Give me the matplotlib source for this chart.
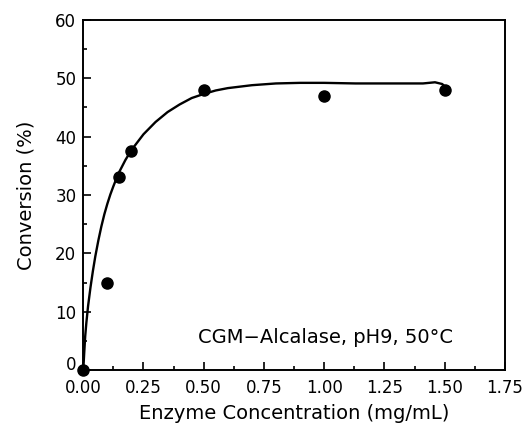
import matplotlib
matplotlib.use("Agg")
import matplotlib.pyplot as plt
from matplotlib.ticker import MultipleLocator, FormatStrFormatter

# measured points
conc = [0.0, 0.10, 0.15, 0.20, 0.50, 1.00, 1.50]
conv = [0.0, 15.0, 33.0, 37.5, 48.0, 47.0, 48.0]

# fitted curve
curve_x = [0.0, 0.004, 0.008, 0.013, 0.02, 0.03, 0.04, 0.05, 0.0625, 0.075, 0.0875, 0.10,
           0.1125, 0.125, 0.1375, 0.15, 0.175, 0.20, 0.25, 0.30, 0.35, 0.40, 0.45, 0.50, 0.55, 0.60,
           0.70, 0.80, 0.90, 1.00, 1.13, 1.25, 1.41, 1.46, 1.49, 1.50]
curve_y = [0.0, 3.0, 5.8, 8.2, 11.0, 14.2, 17.0, 19.5, 22.2, 24.6, 26.7, 28.5,
           30.1, 31.5, 32.8, 34.0, 36.0, 37.7, 40.4, 42.5, 44.2, 45.5, 46.6, 47.3, 47.9, 48.3,
           48.8, 49.1, 49.2, 49.2, 49.1, 49.1, 49.1, 49.3, 49.0, 48.6]

xlabel = "Enzyme Concentration (mg/mL)"
ylabel = "Conversion (%)"
note = "CGM\u2212Alcalase, pH9, 50\u00b0C"

plt.rcParams['font.family'] = ['DejaVu Sans']
fig = plt.figure(figsize=(5.27, 4.30), dpi=100)
ax = fig.add_axes([0.158, 0.139, 0.800, 0.815])

ax.plot(curve_x, curve_y, color='black', lw=1.7, zorder=2)
ax.plot(conc, conv, 'o', color='black', ms=8, zorder=3, clip_on=False)

ax.set_xlim(0, 1.75)
ax.set_ylim(0, 60)
ax.xaxis.set_major_locator(MultipleLocator(0.25))
ax.xaxis.set_minor_locator(MultipleLocator(0.125))
ax.yaxis.set_major_locator(MultipleLocator(10))
ax.yaxis.set_minor_locator(MultipleLocator(5))
ax.xaxis.set_major_formatter(FormatStrFormatter('%.2f'))
ax.tick_params(which='both', direction='in', top=False, right=False, labelsize=12, width=1.2)
ax.tick_params(which='major', length=6)
ax.tick_params(which='minor', length=3)
ax.tick_params(axis='x', pad=6)
ax.tick_params(axis='y', pad=5)
for s in ax.spines.values():
    s.set_linewidth(1.4)

ax.set_xlabel(xlabel, fontsize=14, labelpad=5)
ax.set_ylabel(ylabel, fontsize=14, labelpad=14)
ax.text(0.877, 0.065, note, transform=ax.transAxes, ha='right', va='bottom', fontsize=14)

fig.canvas.draw()
ylabels = ax.yaxis.get_majorticklabels()
for lbl in ylabels:
    if lbl.get_text() == '0':
        lbl.set_verticalalignment('baseline')

fig.savefig("out.png", dpi=100)
